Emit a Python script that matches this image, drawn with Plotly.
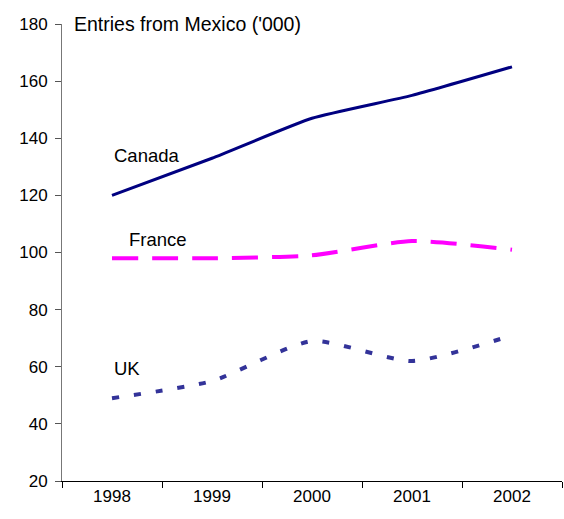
import plotly.graph_objects as go

years = ["1998", "1999", "2000", "2001", "2002"]
canada = [120, 133, 147, 155, 165]
france = [98, 98, 99, 104, 101]
uk = [49, 55, 69, 62, 71]
y_ticks = [20, 40, 60, 80, 100, 120, 140, 160, 180]

FONT = "Liberation Sans, Arial, sans-serif"

fig = go.Figure()
fig.add_trace(go.Scatter(x=years, y=canada, mode="lines", name="Canada",
                         line=dict(color="#000080", width=3, shape="spline", smoothing=0.5)))
fig.add_trace(go.Scatter(x=years, y=france, mode="lines", name="France",
                         line=dict(color="#FF00FF", width=4, dash="26px,14px", shape="spline", smoothing=0.6)))
fig.add_trace(go.Scatter(x=years, y=uk, mode="lines", name="UK",
                         line=dict(color="#333399", width=4, dash="7px,15px", shape="spline", smoothing=0.6)))

fig.update_layout(
    width=564, height=519,
    margin=dict(l=62, r=2, t=24, b=38),
    paper_bgcolor="white", plot_bgcolor="white",
    showlegend=False,
    font=dict(family=FONT, size=17, color="black"),
    xaxis=dict(type="category", range=[-0.5, 4.5], tickson="boundaries",
               ticks="outside", ticklen=6, tickcolor="black", tickwidth=1,
               showline=True, linecolor="black", linewidth=1,
               showgrid=False, zeroline=False,
               tickfont=dict(family=FONT, size=17)),
    yaxis=dict(range=[20, 180], tickvals=y_ticks, ticks="outside", ticklen=6,
               tickcolor="#555", showline=True, linecolor="#777", linewidth=1,
               showgrid=False, zeroline=False, ticklabelstandoff=4,
               tickfont=dict(family=FONT, size=17)),
)

fig.add_annotation(text="Entries from Mexico ('000)", xref="paper", yref="paper",
                   x=0.02, y=1.0, xanchor="left", yanchor="middle", showarrow=False,
                   font=dict(family=FONT, size=19.5))
fig.add_annotation(text="Canada", x=0, y=134, xref="x", yref="y", xanchor="left",
                   yanchor="middle", showarrow=False, font=dict(family=FONT, size=18.5))
fig.add_annotation(text="France", x=0.15, y=104.5, xref="x", yref="y", xanchor="left",
                   yanchor="middle", showarrow=False, font=dict(family=FONT, size=18.5))
fig.add_annotation(text="UK", x=0, y=59.5, xref="x", yref="y", xanchor="left",
                   yanchor="middle", showarrow=False, font=dict(family=FONT, size=18.5))

fig.write_html("out.html")
